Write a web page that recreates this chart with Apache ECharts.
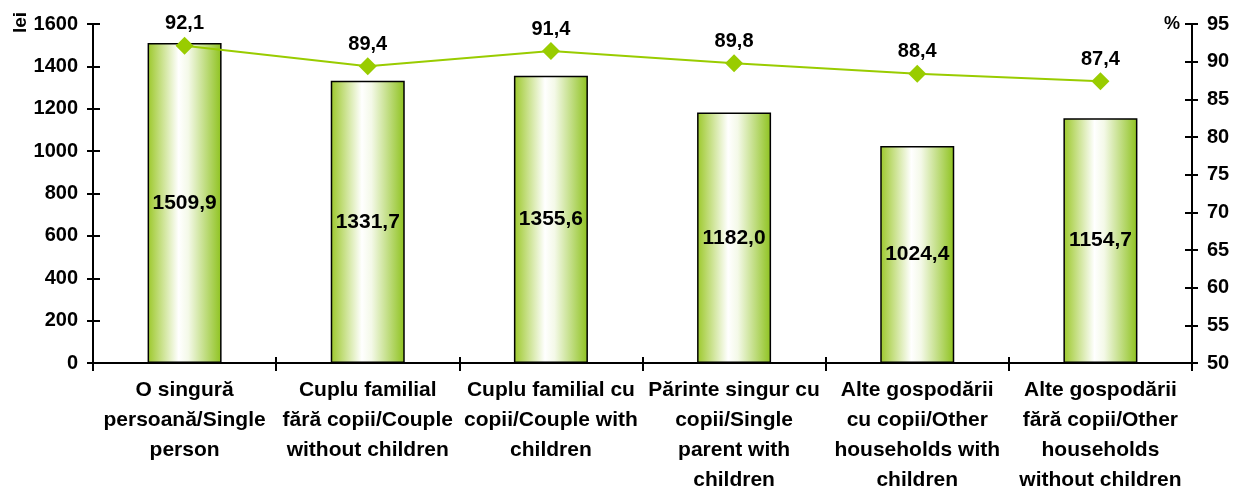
<!DOCTYPE html>
<html>
<head>
<meta charset="utf-8">
<script src="https://cdn.jsdelivr.net/npm/echarts@6/dist/echarts.min.js"></script>
<style>
  html, body { margin: 0; padding: 0; background: #fff; }
  #chart { width: 1242px; height: 489px; }
</style>
</head>
<body>
<div id="chart"></div>
<script>
// categories (Romanian / English)
const categories = [
  'O singură\npersoană/Single\nperson',
  'Cuplu familial\nfără copii/Couple\nwithout children',
  'Cuplu familial cu\ncopii/Couple with\nchildren',
  'Părinte singur cu\ncopii/Single\nparent with\nchildren',
  'Alte gospodării\ncu copii/Other\nhouseholds with\nchildren',
  'Alte gospodării\nfără copii/Other\nhouseholds\nwithout children'
]
// lei
const incomeLei = [1509.9, 1331.7, 1355.6, 1182.0, 1024.4, 1154.7]
// %
const sharePct = [92.1, 89.4, 91.4, 89.8, 88.4, 87.4]

const fmt = v => v.toFixed(1).replace('.', ',')
const font = 'Liberation Sans, Arial, sans-serif'
const black = { color: '#000', width: 2 }

const chart = echarts.init(document.getElementById('chart'))

const barColor = new echarts.graphic.LinearGradient(0, 0, 1, 0, [
  { offset: 0, color: '#9cc82a' },
  { offset: 0.42, color: '#ffffff' },
  { offset: 0.55, color: '#f4f9e8' },
  { offset: 1, color: '#8ec21e' }
])

// the inner half of the crossing ticks is drawn by a twin axis with no labels
const twinY = (min, max, interval, pos) => ({
  type: 'value', min, max, interval, position: pos,
  splitLine: { show: false },
  axisLine: { show: false },
  axisLabel: { show: false },
  axisTick: { show: true, inside: true, length: 7, lineStyle: black }
})

chart.setOption({
  animation: false,
  grid: { left: 93, right: 50, top: 24, bottom: 126, outerBoundsMode: 'none', containLabel: false },
  graphic: [
    {
      type: 'text', x: 11, y: 33, rotation: Math.PI / 2,
      style: { text: 'lei', font: 'bold 19px Liberation Sans, Arial, sans-serif', fill: '#000' }
    }
  ],
  xAxis: [
    {
      type: 'category',
      data: categories,
      axisLine: { lineStyle: black },
      axisTick: { show: true, length: 8, lineStyle: black },
      axisLabel: {
        interval: 0,
        margin: 12,
        fontFamily: font,
        fontWeight: 'bold',
        fontSize: 21,
        lineHeight: 30,
        color: '#000'
      }
    },
    {
      type: 'category',
      data: categories,
      position: 'bottom',
      axisLine: { show: false },
      axisLabel: { show: false },
      axisTick: { show: true, inside: true, length: 6, lineStyle: black }
    }
  ],
  yAxis: [
    {
      type: 'value',
      min: 0, max: 1600, interval: 200,
      splitLine: { show: false },
      axisLine: { show: true, lineStyle: black },
      axisTick: { show: true, length: 6, lineStyle: black },
      axisLabel: {
        margin: 15,
        formatter: v => String(v),
        fontFamily: font, fontWeight: 'bold', fontSize: 20, color: '#000'
      }
    },
    {
      type: 'value',
      min: 50, max: 95, interval: 5,
      position: 'right',
      name: '%',
      nameLocation: 'end',
      nameGap: 0,
      nameTextStyle: {
        fontFamily: font, fontWeight: 'bold', fontSize: 18, color: '#000',
        align: 'right', verticalAlign: 'middle', padding: [0, 12, 0, 0]
      },
      splitLine: { show: false },
      axisLine: { show: true, lineStyle: black },
      axisTick: { show: true, length: 6, lineStyle: black },
      axisLabel: {
        margin: 15,
        fontFamily: font, fontWeight: 'bold', fontSize: 20, color: '#000'
      }
    },
    twinY(0, 1600, 200, 'left'),
    twinY(50, 95, 5, 'right')
  ],
  series: [
    {
      type: 'bar',
      data: incomeLei,
      barWidth: 74,
      itemStyle: { color: barColor, borderColor: '#000', borderWidth: 1.5 },
      label: {
        show: true,
        position: 'inside',
        formatter: p => fmt(p.value),
        fontFamily: font, fontWeight: 'bold', fontSize: 21, color: '#000'
      }
    },
    {
      type: 'line',
      yAxisIndex: 1,
      data: sharePct,
      symbol: 'diamond',
      symbolSize: 18,
      itemStyle: { color: '#99cc00' },
      lineStyle: { color: '#99cc00', width: 2 },
      label: {
        show: true,
        position: 'top',
        distance: 3,
        formatter: p => fmt(p.value),
        fontFamily: font, fontWeight: 'bold', fontSize: 20, color: '#000'
      }
    }
  ]
})
</script>
</body>
</html>
